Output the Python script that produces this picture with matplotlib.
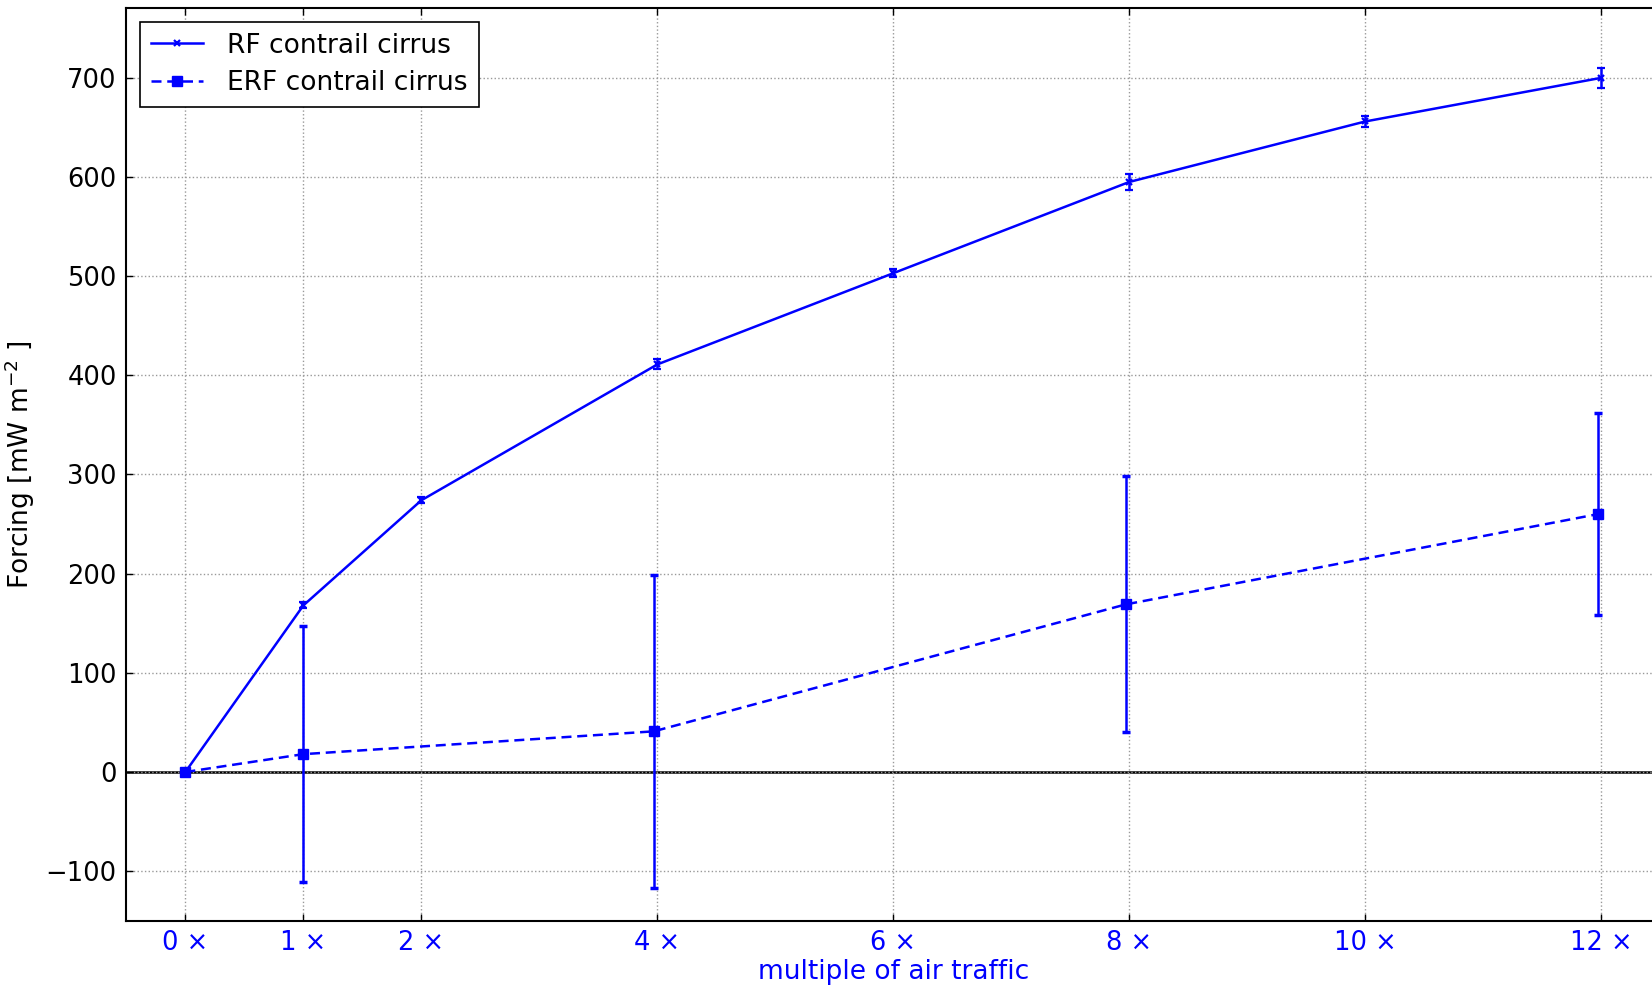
import matplotlib
matplotlib.use("Agg")
import matplotlib.pyplot as plt

# air traffic multiples and forcing values [mW m-2]
rf_x = [0, 1, 2, 4, 6, 8, 10, 12]
rf = [0, 168, 274, 411, 503, 595, 656, 700]
rf_err = [0, 3, 3, 5, 4, 8, 6, 10]

erf_x = [0, 1, 3.97, 7.97, 11.97]
erf = [0, 18, 41, 169, 260]
erf_err = [0, 129, 158, 129, 102]

xticks = [0, 1, 2, 4, 6, 8, 10, 12]
xticklabels = [str(m) + " \u00d7" for m in xticks]
yticks = [-100, 0, 100, 200, 300, 400, 500, 600, 700]

fig = plt.figure(figsize=(16.52, 9.89), dpi=100)
ax = fig.add_axes([0.0765, 0.069, 0.9285, 0.9225])

rf_c = ax.errorbar(rf_x, rf, yerr=rf_err, color="b", marker="x", markersize=4,
                   markeredgewidth=1.6, linewidth=1.8, elinewidth=1.8,
                   capsize=3, capthick=1.8)
erf_c = ax.errorbar(erf_x, erf, yerr=erf_err, color="b", marker="s", markersize=7,
                    linestyle=(0, (4, 2.3)), linewidth=1.8, elinewidth=1.8,
                    capsize=3, capthick=2.5)

ax.axhline(0, color="k", linewidth=1.8, zorder=1)

ax.set_xlim(-0.5, 12.5)
ax.set_ylim(-150, 770)
ax.set_xticks(xticks)
ax.set_xticklabels(xticklabels, color="b")
ax.set_yticks(yticks)
ax.set_yticklabels([str(v).replace("-", "\u2212") for v in yticks])
ax.tick_params(direction="in", length=5, width=1, labelsize=18.5,
               top=True, right=True)
ax.tick_params(axis="x", pad=7)
ax.tick_params(axis="y", pad=7)
ax.grid(True, linestyle=":", color="0.6", linewidth=1)
for s in ax.spines.values():
    s.set_linewidth(1.5)

ax.set_xlabel("multiple of air traffic", color="b", fontsize=19, labelpad=2)
ax.set_ylabel(r"Forcing [mW m$^{-2}$ ]", fontsize=19, labelpad=6)

leg = ax.legend([rf_c[0], erf_c[0]], ["RF contrail cirrus", "ERF contrail cirrus"],
                loc="upper left", fontsize=19, numpoints=1, fancybox=False,
                framealpha=1, edgecolor="k", borderaxespad=0.5,
                handlelength=2.0, handletextpad=0.9, labelspacing=0.42,
                borderpad=0.42)
leg.get_frame().set_linewidth(1.2)

fig.savefig("out.png", dpi=100)
